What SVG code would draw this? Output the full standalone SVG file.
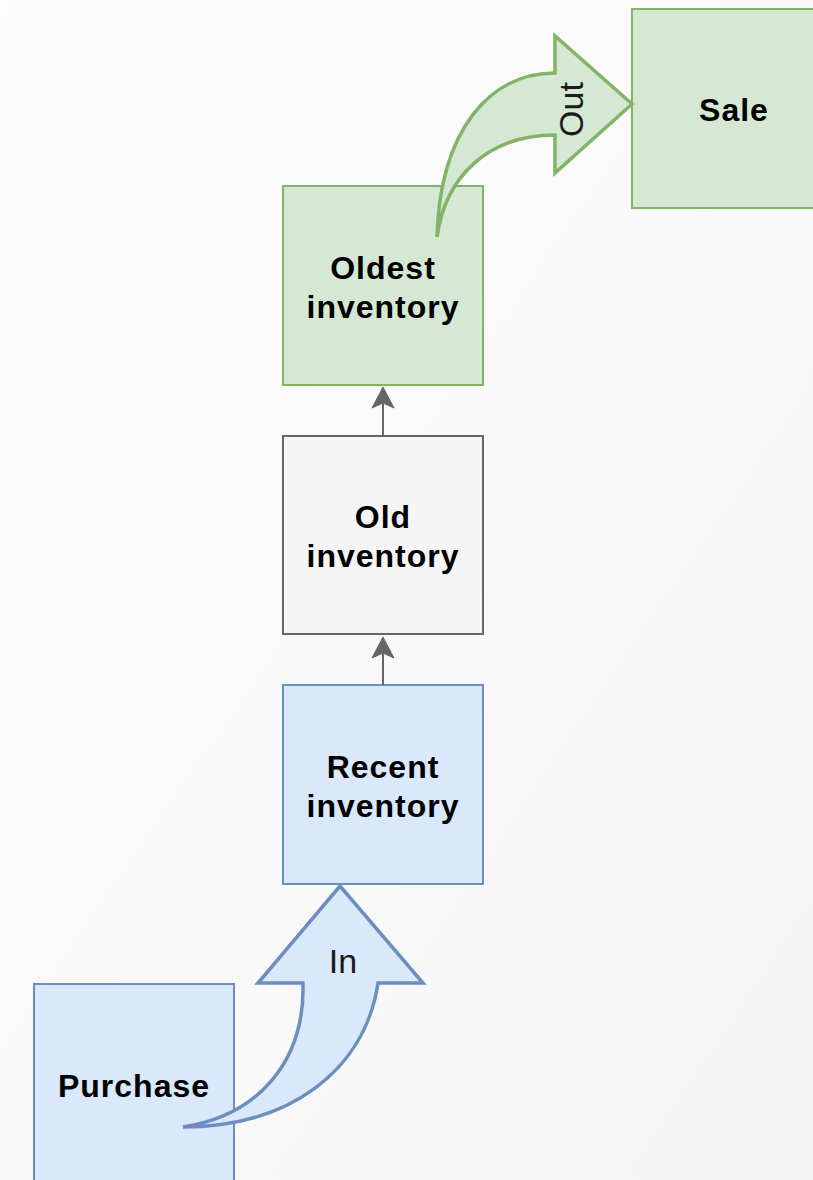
<svg xmlns="http://www.w3.org/2000/svg" width="813" height="1180" viewBox="0 0 813 1180">
<style>
.box{stroke-width:2}
.green{fill:#d5e8d4;stroke:#82b366}
.gray{fill:#f5f5f5;stroke:#666666}
.blue{fill:#dae8fc;stroke:#6c8ebf}
.lbl{font-family:"Liberation Sans",Arial,sans-serif;font-weight:bold;font-size:32px;letter-spacing:1px;fill:#000;text-anchor:middle}
.arrtxt{font-family:"Liberation Sans",Arial,sans-serif;font-size:34px;fill:#1a1a1a;text-anchor:middle}
.conn{stroke:#666666;stroke-width:2;fill:none}
.head{fill:#666666;stroke:#666666;stroke-width:1}
</style>
<defs>
<linearGradient id="bg" x1="0" y1="0" x2="1" y2="1">
<stop offset="0" stop-color="#fdfdfd"/>
<stop offset="1" stop-color="#f5f5f5"/>
</linearGradient>
</defs>
<rect x="0" y="0" width="813" height="1180" fill="url(#bg)"/>
<g id="sale">
<rect class="box green" x="632" y="9" width="200" height="199"/>
<text class="lbl" x="734" y="121">Sale</text>
</g>
<g id="oldest">
<rect class="box green" x="283" y="186" width="200" height="199"/>
<text class="lbl" x="383" y="279">Oldest</text>
<text class="lbl" x="383" y="318">inventory</text>
</g>
<g id="old">
<rect class="box gray" x="283" y="436" width="200" height="198"/>
<text class="lbl" x="383" y="528">Old</text>
<text class="lbl" x="383" y="567">inventory</text>
</g>
<g id="recent">
<rect class="box blue" x="283" y="685" width="200" height="199"/>
<text class="lbl" x="383" y="778">Recent</text>
<text class="lbl" x="383" y="817">inventory</text>
</g>
<g id="purchase">
<rect class="box blue" x="34" y="984" width="200" height="202"/>
<text class="lbl" x="134" y="1097">Purchase</text>
</g>
<g id="connectors">
<line class="conn" x1="383" y1="436" x2="383" y2="402"/>
<path class="head" d="M383,387 L394,408 L383,403 L372,408 Z"/>
<line class="conn" x1="383" y1="685" x2="383" y2="652"/>
<path class="head" d="M383,637 L394,658 L383,653 L372,658 Z"/>
</g>
<g id="out-arrow">
<path d="M437,237 C440,130 490,73 555,73 L555,36 L632,104 L555,173 L555,135 C487,135 445,178 437,237 Z" fill="#d5e8d4" stroke="#82b366" stroke-width="3.5" stroke-linejoin="miter"/>
<text class="arrtxt" transform="translate(583,109.5) rotate(-90)" x="0" y="0">Out</text>
</g>
<g id="in-arrow">
<path d="M183,1127 C290,1127 365,1070 378,983 L423,983 L340,886 L258,983 L303,983 C305,1060 260,1115 183,1127 Z" fill="#dae8fc" stroke="#6c8ebf" stroke-width="3.5"/>
<text class="arrtxt" x="343" y="973">In</text>
</g>
</svg>
